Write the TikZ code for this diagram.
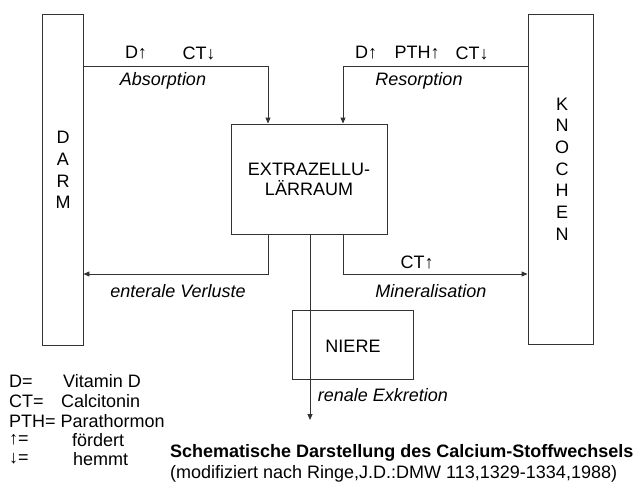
\documentclass[tikz,border=0pt]{standalone}
\usepackage{fontspec}
\setmainfont{Liberation Sans}
\usetikzlibrary{arrows.meta}
\tikzset{
  organbox/.style = {draw=black!80, line width=0.9pt, inner sep=0pt},
  lbl/.style      = {inner sep=0pt, font=\fontsize{18}{20}\selectfont},
  itlbl/.style    = {inner sep=0pt, font=\fontsize{18}{20}\selectfont\itshape},
  vertlbl/.style  = {inner sep=0pt, align=center, font=\fontsize{18}{21.7}\selectfont},
  flow/.style     = {draw=black!80, line width=0.9pt},
  >={Triangle[length=6pt,width=5pt]}
}
\begin{document}
\begin{tikzpicture}[x=1pt, y=-1pt]
  \useasboundingbox (0,0) rectangle (640,488);

  % Darm and Knochen
  \node[organbox, minimum width=41pt, minimum height=331pt] (darm) at (62.5,179.5) {};
  \node[vertlbl] (darmtxt) at (63,170) {D\\A\\R\\M};
  \node[organbox, minimum width=65pt, minimum height=330pt] (knochen) at (560.5,179) {};
  \node[vertlbl] (knochentxt) at (562,169) {K\\N\\O\\C\\H\\E\\N};

  % Extrazellulaerraum and Niere
  \node[organbox, minimum width=156pt, minimum height=110pt, align=center,
        font=\fontsize{18}{20}\selectfont] (extra) at (309,179) {EXTRAZELLU-\\LÄRRAUM};
  \node[organbox, minimum width=121pt, minimum height=69pt] (niere) at (352.5,344.5) {};
  \node[lbl] (nieretxt) at (353,346) {NIERE};

  % Corner points of the connectors
  \coordinate (abs) at (268,66);
  \coordinate (res) at (343,66);
  \coordinate (ent) at (268,274);
  \coordinate (min) at (343,274);
  \coordinate (ren) at (310,420);

  % Connectors
  \draw[flow, ->] (darm.east |- abs) -- (abs) -- (abs |- extra.north);
  \draw[flow, ->] (knochen.west |- res) -- (res) -- (res |- extra.north);
  \draw[flow, ->] (ent |- extra.south) -- (ent) -- (ent -| darm.east);
  \draw[flow, ->] (min |- extra.south) -- (min) -- (min -| knochen.west);
  \draw[flow, ->] (ren |- extra.south) -- (ren);

  % Labels on the connectors
  \node[lbl] (absd)  at (136,53) {D↑};
  \node[lbl] (absct) at (199,53) {CT↓};
  \node[itlbl] (abstxt) at (163,81) {Absorption};
  \node[lbl] (resd)   at (366,53) {D↑};
  \node[lbl] (respth) at (417,53) {PTH↑};
  \node[lbl] (resct)  at (472,53) {CT↓};
  \node[itlbl] (restxt) at (419,81) {Resorption};
  \node[itlbl] (enttxt) at (178,291) {enterale Verluste};
  \node[lbl] (minct) at (417,262) {CT↑};
  \node[itlbl] (mintxt) at (431,291) {Mineralisation};
  \node[itlbl] (rentxt) at (383,395) {renale Exkretion};

  % Legend
  \node[lbl, anchor=west] (lgd1) at (9,381) {D=};
  \node[lbl, anchor=west] (lgv1) at (63,381) {Vitamin D};
  \node[lbl, anchor=west] (lgd2) at (9,401) {CT=};
  \node[lbl, anchor=west] (lgv2) at (61,401) {Calcitonin};
  \node[lbl, anchor=west] (lgd3) at (9,421) {PTH= Parathormon};
  \node[lbl, anchor=west] (lgd4) at (9,440) {↑=};
  \node[lbl, anchor=west] (lgv4) at (72,440) {fördert};
  \node[lbl, anchor=west] (lgd5) at (9,459) {↓=};
  \node[lbl, anchor=west] (lgv5) at (73,459) {hemmt};

  % Caption
  \node[lbl, anchor=west, font=\fontsize{18}{20}\selectfont\bfseries] (title) at (170,453)
    {Schematische Darstellung des Calcium-Stoffwechsels};
  \node[lbl, anchor=west] (source) at (170,474)
    {(modifiziert nach Ringe,J.D.:DMW 113,1329-1334,1988)};
\end{tikzpicture}
\end{document}
